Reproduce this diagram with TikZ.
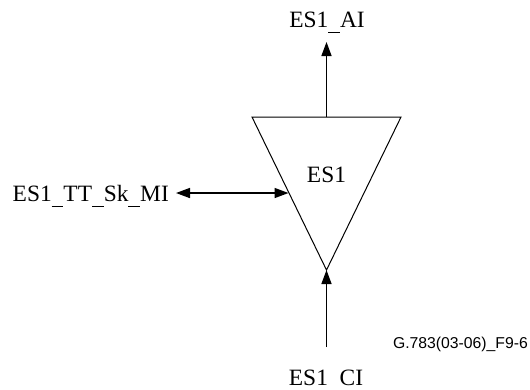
\documentclass[tikz,border=0pt]{standalone}
\usepackage{fontspec}
\setmainfont{Liberation Serif}
\newfontfamily\arialfont{Liberation Sans}
\usetikzlibrary{arrows.meta}
\newcommand\usc{\rule[-0.27em]{0.5em}{0.055em}}
\begin{document}
\begin{tikzpicture}[x=1bp,y=-1bp,
  lbl/.style={font=\fontsize{23.5}{26}\selectfont, inner sep=0pt},
  conn/.style={line width=1.5bp},
  tipend/.style={-{Triangle[length=14bp,width=10bp]}},
  tipboth/.style={{Triangle[length=14bp,width=10bp]}-{Triangle[length=14bp,width=10bp]}}]
\useasboundingbox (0,0) rectangle (530,389);
% triangle
\coordinate (tl) at (252,117);
\coordinate (tr) at (401,117);
\coordinate (ap) at (326.5,270);
\draw[line width=1bp] (tl) -- (tr) -- (ap) -- cycle;
\coordinate (top) at (326.5,117);
\coordinate (lft) at (288.5,193);
\node[lbl, anchor=base] (es) at (326.5,182) {ES1};
% top
\node[lbl, anchor=base] (ai) at (327,27) {ES1\usc AI};
\coordinate (aitip) at (326.5,42);
\draw[conn,tipend] (top) -- (aitip);
% left
\node[lbl, anchor=base east] (mi) at (169,201) {ES1\usc TT\usc Sk\usc MI};
\coordinate (mitip) at (176,193);
\draw[conn,tipboth] (mitip) -- (lft);
% bottom
\coordinate (cibot) at (326.5,347);
\node[lbl, anchor=base] (ci) at (326,385) {ES1\usc CI};
\draw[conn,tipend] (cibot) -- (ap);
% figure id
\node[font=\arialfont\fontsize{15.8}{18}\selectfont, anchor=base east, inner sep=0pt] (fid) at (528,348) {G.783(03-06)\_F9-6};
\end{tikzpicture}
\end{document}
